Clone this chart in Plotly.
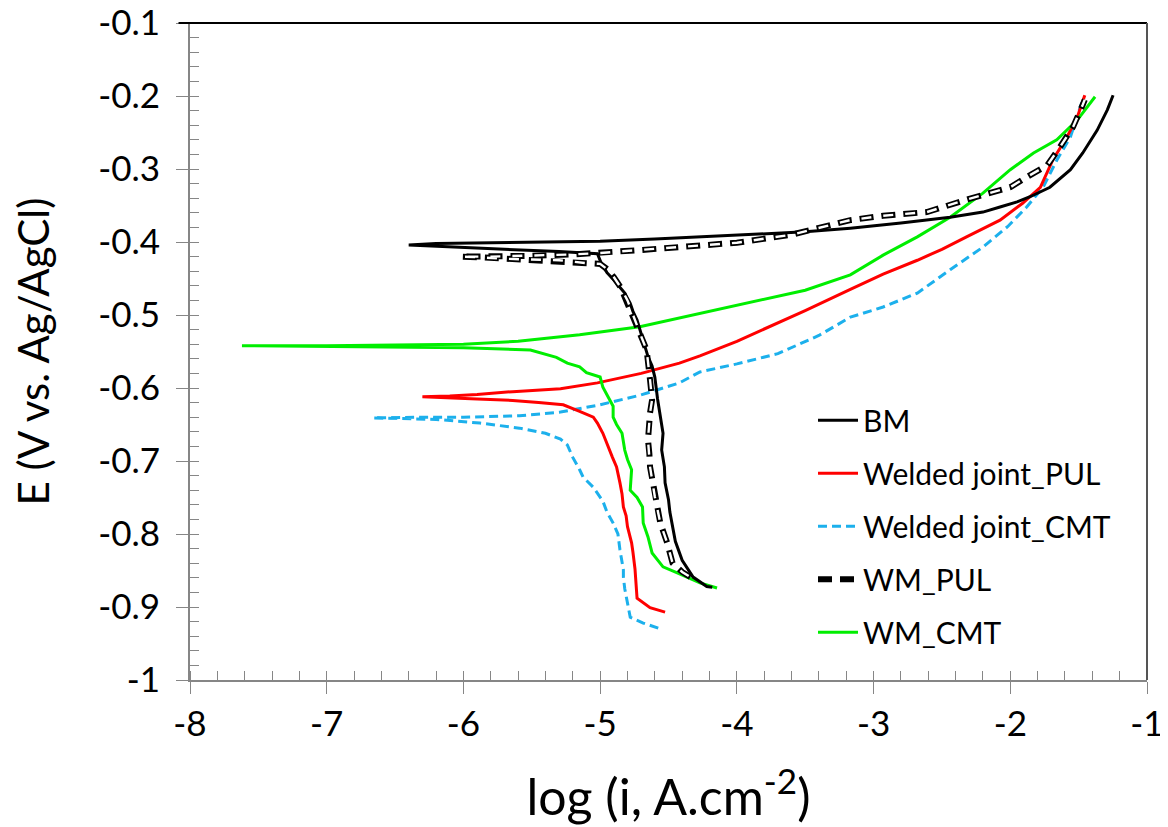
import plotly.graph_objects as go

# ---------------- data ----------------
bm_x = [-4.18, -4.22, -4.32, -4.40, -4.45, -4.47, -4.49, -4.50, -4.525, -4.53, -4.55, -4.54, -4.56, -4.58,
        -4.60, -4.62, -4.65, -4.67, -4.69, -4.71, -4.73, -4.76, -4.78, -4.82, -4.855, -4.90, -4.95, -4.99,
        -5.02, -5.30, -5.70, -6.10, -6.40, -6.20, -5.80, -5.40, -5.00, -4.60, -4.20, -3.80, -3.50, -3.17,
        -2.80, -2.44, -2.20, -2.075, -1.95, -1.855, -1.71, -1.56, -1.47, -1.365, -1.29, -1.248]
bm_y = [-0.873, -0.872, -0.859, -0.836, -0.810, -0.790, -0.770, -0.753, -0.730, -0.708, -0.685, -0.662,
        -0.640, -0.615, -0.585, -0.570, -0.557, -0.545, -0.534, -0.520, -0.507, -0.495, -0.484, -0.470,
        -0.462, -0.452, -0.442, -0.430, -0.416, -0.413, -0.410, -0.407, -0.404, -0.402, -0.401, -0.400,
        -0.399, -0.396, -0.392, -0.389, -0.386, -0.381, -0.374, -0.366, -0.359, -0.352, -0.345, -0.338,
        -0.325, -0.301, -0.278, -0.247, -0.219, -0.199]

wj_pul_x = [-4.525, -4.635, -4.73, -4.735, -4.745, -4.76, -4.77, -4.80, -4.81, -4.83, -4.84, -4.855, -4.87,
            -4.88, -4.91, -4.93, -4.96, -4.98, -5.02, -5.05, -5.15, -5.27, -5.45, -5.64, -5.90, -6.10, -6.30,
            -6.10, -5.90, -5.64, -5.29, -5.02, -4.70, -4.42, -4.27, -4.00, -3.75, -3.50, -3.17, -2.93, -2.68,
            -2.50, -2.32, -2.075, -1.91, -1.78, -1.69, -1.585, -1.51, -1.455]
wj_pul_y = [-0.907, -0.901, -0.888, -0.870, -0.848, -0.825, -0.812, -0.790, -0.775, -0.763, -0.745, -0.730,
            -0.718, -0.708, -0.695, -0.685, -0.672, -0.662, -0.648, -0.640, -0.632, -0.623, -0.620, -0.617,
            -0.615, -0.614, -0.612, -0.611, -0.609, -0.605, -0.601, -0.593, -0.580, -0.566, -0.556, -0.536,
            -0.515, -0.494, -0.465, -0.444, -0.425, -0.410, -0.393, -0.370, -0.347, -0.325, -0.288, -0.256,
            -0.229, -0.199]

wj_cmt_x = [-4.575, -4.685, -4.78, -4.80, -4.82, -4.83, -4.83, -4.855, -4.87, -4.905, -4.95, -4.98, -5.05,
            -5.125, -5.15, -5.20, -5.24, -5.29, -5.40, -5.59, -5.88, -6.20, -6.45, -6.66, -6.30, -6.00, -5.59,
            -5.29, -5.00, -4.71, -4.42, -4.27, -4.00, -3.70, -3.40, -3.17, -2.93, -2.68, -2.44, -2.20, -2.02,
            -1.88, -1.76, -1.66, -1.56, -1.47]
wj_cmt_y = [-0.929, -0.922, -0.914, -0.895, -0.875, -0.859, -0.849, -0.822, -0.800, -0.785, -0.770, -0.755,
            -0.736, -0.722, -0.712, -0.695, -0.678, -0.670, -0.662, -0.655, -0.648, -0.643, -0.642, -0.641,
            -0.640, -0.640, -0.638, -0.633, -0.623, -0.610, -0.593, -0.578, -0.567, -0.553, -0.528, -0.503,
            -0.489, -0.470, -0.438, -0.407, -0.379, -0.352, -0.325, -0.288, -0.256, -0.205]

wm_pul_x = [-4.34, -4.40, -4.47, -4.51, -4.56, -4.60, -4.635, -4.64, -4.65, -4.635, -4.62, -4.635, -4.66,
            -4.69, -4.72, -4.76, -4.80, -4.85, -4.90, -4.95, -5.00, -5.10, -5.15, -5.30, -5.50, -5.70, -5.88,
            -6.02, -5.80, -5.50, -5.20, -5.00, -4.70, -4.42, -4.00, -3.60, -3.17, -2.93, -2.61, -2.32, -2.15,
            -2.00, -1.88, -1.73, -1.64, -1.54, -1.47, -1.455]
wm_pul_y = [-0.859, -0.852, -0.840, -0.812, -0.785, -0.749, -0.708, -0.690, -0.671, -0.634, -0.616, -0.589,
            -0.548, -0.534, -0.520, -0.500, -0.480, -0.462, -0.448, -0.437, -0.430, -0.429, -0.428, -0.425,
            -0.424, -0.423, -0.421, -0.420, -0.420, -0.419, -0.417, -0.415, -0.411, -0.407, -0.401, -0.390,
            -0.370, -0.364, -0.359, -0.342, -0.333, -0.325, -0.311, -0.295, -0.271, -0.242, -0.212, -0.205]

wm_cmt_x = [-4.145, -4.27, -4.44, -4.54, -4.62, -4.65, -4.685, -4.69, -4.73, -4.78, -4.77, -4.80, -4.82,
            -4.84, -4.88, -4.905, -4.905, -4.93, -4.98, -5.00, -5.10, -5.15, -5.24, -5.32, -5.51, -6.00, -6.50,
            -7.00, -7.62, -7.00, -6.50, -6.00, -5.60, -5.29, -5.15, -4.71, -4.42, -4.27, -4.00, -3.50, -3.17,
            -2.93, -2.68, -2.44, -2.20, -2.00, -1.83, -1.66, -1.51, -1.38]
wm_cmt_y = [-0.874, -0.867, -0.853, -0.845, -0.826, -0.804, -0.785, -0.763, -0.750, -0.740, -0.712, -0.698,
            -0.685, -0.662, -0.650, -0.640, -0.625, -0.616, -0.599, -0.585, -0.579, -0.571, -0.566, -0.558,
            -0.548, -0.545, -0.544, -0.543, -0.542, -0.542, -0.541, -0.540, -0.536, -0.530, -0.527, -0.516,
            -0.504, -0.497, -0.486, -0.466, -0.445, -0.418, -0.393, -0.366, -0.333, -0.301, -0.278, -0.260,
            -0.233, -0.201]

series_names = ["BM", "Welded joint_PUL", "Welded joint_CMT", "WM_PUL", "WM_CMT"]

x_tickvals = [-8, -7, -6, -5, -4, -3, -2, -1]
x_ticktext = ["-8", "-7", "-6", "-5", "-4", "-3", "-2", "-1"]
y_tickvals = [-1, -0.9, -0.8, -0.7, -0.6, -0.5, -0.4, -0.3, -0.2, -0.1]
y_ticktext = ["-1", "-0.9", "-0.8", "-0.7", "-0.6", "-0.5", "-0.4", "-0.3", "-0.2", "-0.1"]

# ---------------- figure ----------------
FONT = "Lato"
AXIS_GRAY = "#868686"
LW = 3

fig = go.Figure()

fig.add_trace(go.Scatter(x=wj_cmt_x, y=wj_cmt_y, mode="lines", name=series_names[2],
                         line=dict(color="#1CB0EC", width=LW, dash="9px,5px"),
                         legendrank=3, legendgroup="c"))
fig.add_trace(go.Scatter(x=wj_pul_x, y=wj_pul_y, mode="lines", name=series_names[1],
                         line=dict(color="#FF0000", width=LW),
                         legendrank=2, legendgroup="b"))
fig.add_trace(go.Scatter(x=wm_cmt_x, y=wm_cmt_y, mode="lines", name=series_names[4],
                         line=dict(color="#00EE00", width=LW),
                         legendrank=5, legendgroup="e"))
fig.add_trace(go.Scatter(x=bm_x, y=bm_y, mode="lines", name=series_names[0],
                         line=dict(color="#000000", width=LW),
                         legendrank=1, legendgroup="a"))
# WM_PUL: outlined dashes (black dash + white inner dash)
fig.add_trace(go.Scatter(x=wm_pul_x, y=wm_pul_y, mode="lines", name=series_names[3],
                         line=dict(color="#000000", width=6, dash="14px,8px"),
                         legendrank=4, legendgroup="d"))
fig.add_trace(go.Scatter(x=wm_pul_x, y=wm_pul_y, mode="lines", name=series_names[3],
                         line=dict(color="#FFFFFF", width=2.4, dash="0px,2px,10px,10px"),
                         showlegend=False, legendgroup="d", hoverinfo="skip"))

# page body has an 8px margin, so the figure is made 8px smaller on each axis
fig.update_layout(
    width=1160, height=819,
    margin=dict(l=182, r=21, t=15, b=147, autoexpand=False),
    paper_bgcolor="white", plot_bgcolor="white",
    font=dict(family=FONT, color="black"),
    showlegend=True,
    legend=dict(x=0.651, y=0.435, xanchor="left", yanchor="top",
                font=dict(family=FONT, size=30, color="black"),
                bgcolor="rgba(0,0,0,0)", tracegroupgap=11, itemwidth=40),
)

fig.update_xaxes(
    range=[-8, -1], tickmode="array", tickvals=x_tickvals, ticktext=x_ticktext,
    automargin=False, ticklabeloverflow="allow",
    showgrid=False, zeroline=False,
    showline=True, linecolor=AXIS_GRAY, linewidth=2,
    ticks="outside", ticklen=12, tickcolor=AXIS_GRAY, tickwidth=1,
    tickfont=dict(family=FONT, size=35, color="black"), ticklabelstandoff=0,
    minor=dict(tickmode="linear", tick0=-8, dtick=0.2, ticks="inside", ticklen=9,
               tickcolor=AXIS_GRAY, tickwidth=1, showgrid=False),
    title=dict(text="log (i, A.cm<sup>-2</sup>)", font=dict(family=FONT, size=50, color="black"),
               standoff=38),
)
fig.update_yaxes(
    range=[-1, -0.1], tickmode="array", tickvals=y_tickvals, ticktext=y_ticktext,
    automargin=False, ticklabeloverflow="allow",
    showgrid=False, zeroline=False,
    showline=True, linecolor=AXIS_GRAY, linewidth=2,
    ticks="outside", ticklen=12, tickcolor=AXIS_GRAY, tickwidth=1,
    tickfont=dict(family=FONT, size=35, color="black"), ticklabelstandoff=9,
    minor=dict(tickmode="linear", tick0=-1, dtick=0.02, ticks="inside", ticklen=9,
               tickcolor=AXIS_GRAY, tickwidth=1, showgrid=False),
    title=dict(text="E (V vs. Ag/AgCl)", font=dict(family=FONT, size=42, color="black"),
               standoff=42),
)

# top and right border of the plot area
fig.add_shape(type="line", xref="paper", yref="paper", x0=-0.012, x1=1, y0=1, y1=1,
              line=dict(color="#000000", width=2))
fig.add_shape(type="line", xref="paper", yref="paper", x0=1, x1=1, y0=0, y1=1,
              line=dict(color="#555555", width=2))

fig.write_html("out.html")
